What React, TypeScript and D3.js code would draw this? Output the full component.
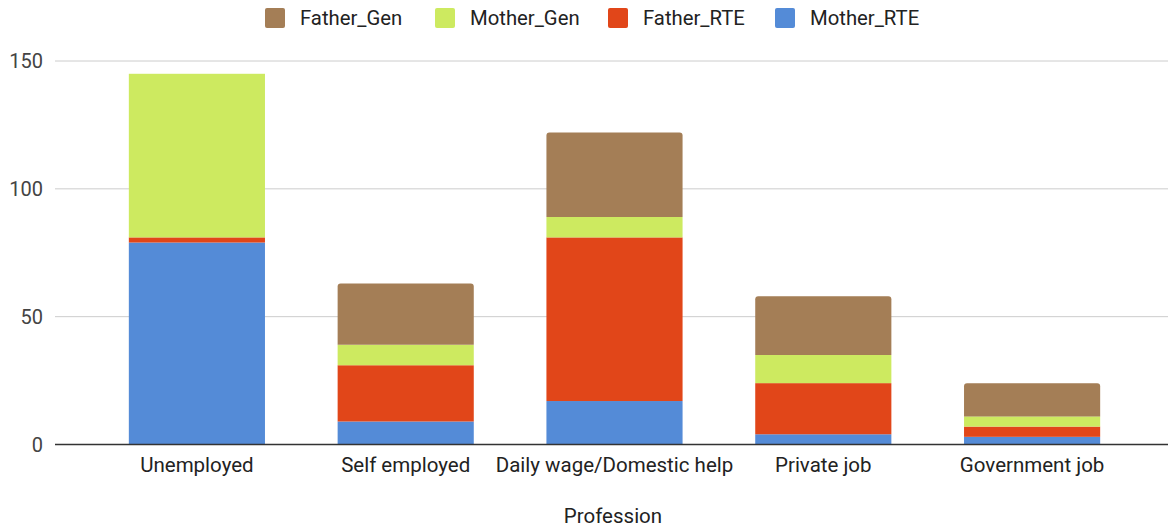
import React from "react";
import * as d3 from "d3";

const categories = ["Unemployed", "Self employed", "Daily wage/Domestic help", "Private job", "Government job"];
const seriesNames = ["Mother_RTE", "Father_RTE", "Mother_Gen", "Father_Gen"];
const motherRTE = [79, 9, 17, 4, 3];
const fatherRTE = [2, 22, 64, 20, 4];
const motherGen = [64, 8, 8, 11, 4];
const fatherGen = [0, 24, 33, 23, 13];
const colors = ["#548bd7", "#e14619", "#cdea60", "#a47e56"];
const yTicks = [0, 50, 100, 150];
const legendOrder = ["Father_Gen", "Mother_Gen", "Father_RTE", "Mother_RTE"];
const legendX = [265, 435, 608, 775];

const W = 1170, H = 532;
const FONT = "Roboto, 'Noto Sans', sans-serif";

function roundTopRect(x: number, y: number, w: number, h: number, r: number) {
  const rr = Math.min(r, h, w / 2);
  return `M${x},${y + h}V${y + rr}Q${x},${y} ${x + rr},${y}H${x + w - rr}Q${x + w},${y} ${x + w},${y + rr}V${y + h}Z`;
}

export default function App() {
  const x = d3.scaleBand<string>().domain(categories).range([92.5, 1136.5]).paddingInner(0.348).paddingOuter(0.174);
  const y = d3.scaleLinear().domain([0, 150]).range([444.5, 61]);
  const values = [motherRTE, fatherRTE, motherGen, fatherGen];
  const rows = categories.map((c, i) => {
    const o: any = { cat: c };
    seriesNames.forEach((s, j) => (o[s] = values[j][i]));
    return o;
  });
  const stacked = d3.stack<any>().keys(seriesNames)(rows);

  return (
    <svg width={W} height={H} style={{ position: "absolute", left: 0, top: 0, background: "#fff" }} fontFamily={FONT}>
      {yTicks.filter((t) => t > 0).map((t) => (
        <line key={t} x1={55} x2={1168} y1={y(t)} y2={y(t)} stroke="#cccccc" strokeWidth={1} />
      ))}
      {yTicks.map((t) => (
        <text key={"l" + t} x={43} y={y(t)} dy="0.35em" textAnchor="end" fontSize={20} fill="#444">
          {t}
        </text>
      ))}
      {stacked.map((layer, j) =>
        layer.map((d, i) => {
          const x0 = x(categories[i])!;
          const w = x.bandwidth();
          const top = y(d[1]);
          const h = y(d[0]) - y(d[1]);
          if (h <= 0) return null;
          if (j === 3) {
            return <path key={j + "-" + i} d={roundTopRect(x0, top, w, h, 3)} fill={colors[j]} />;
          }
          return <rect key={j + "-" + i} x={x0} y={top} width={w} height={h} fill={colors[j]} />;
        })
      )}
      <line x1={55} x2={1168} y1={y(0)} y2={y(0)} stroke="#333" strokeWidth={1.5} />
      {categories.map((c) => (
        <text key={c} x={x(c)! + x.bandwidth() / 2} y={465} dy="0.35em" textAnchor="middle" fontSize={20.5} fill="#222">
          {c}
        </text>
      ))}
      <text x={613} y={516} dy="0.35em" textAnchor="middle" fontSize={20.5} fill="#222">
        Profession
      </text>
      {legendOrder.map((s, k) => {
        const j = seriesNames.indexOf(s);
        return (
          <g key={s}>
            <rect x={legendX[k]} y={8} width={20} height={20} rx={2} fill={colors[j]} />
            <text x={legendX[k] + 35} y={18} dy="0.35em" fontSize={20.3} fill="#222">
              {s}
            </text>
          </g>
        );
      })}
    </svg>
  );
}
